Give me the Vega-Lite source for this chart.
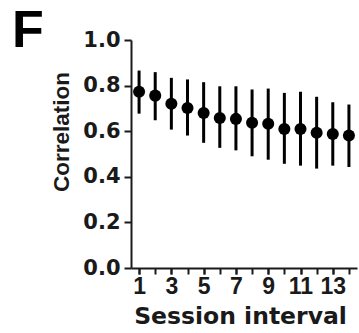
{
  "$schema": "https://vega.github.io/schema/vega-lite/v6.json",
  "autosize": {"type": "none"},
  "padding": {"left": 131, "top": 40, "right": 2, "bottom": 65},
  "width": 226,
  "height": 228,
  "background": "white",
  "title": {
    "text": "F",
    "anchor": "start",
    "frame": "group",
    "font": "Liberation Sans",
    "fontWeight": "bold",
    "fontSize": 52,
    "color": "black",
    "baseline": "alphabetic",
    "dx": -119,
    "dy": 70,
    "offset": 0
  },
  "data": {
    "values": [
      {"interval": 1, "r": 0.773, "lo": 0.677, "hi": 0.866},
      {"interval": 2, "r": 0.756, "lo": 0.648, "hi": 0.859},
      {"interval": 3, "r": 0.720, "lo": 0.607, "hi": 0.834},
      {"interval": 4, "r": 0.702, "lo": 0.581, "hi": 0.827},
      {"interval": 5, "r": 0.680, "lo": 0.549, "hi": 0.815},
      {"interval": 6, "r": 0.658, "lo": 0.527, "hi": 0.797},
      {"interval": 7, "r": 0.654, "lo": 0.516, "hi": 0.797},
      {"interval": 8, "r": 0.637, "lo": 0.490, "hi": 0.783},
      {"interval": 9, "r": 0.633, "lo": 0.475, "hi": 0.787},
      {"interval": 10, "r": 0.610, "lo": 0.457, "hi": 0.768},
      {"interval": 11, "r": 0.610, "lo": 0.449, "hi": 0.773},
      {"interval": 12, "r": 0.593, "lo": 0.436, "hi": 0.751},
      {"interval": 13, "r": 0.588, "lo": 0.449, "hi": 0.727},
      {"interval": 14, "r": 0.581, "lo": 0.443, "hi": 0.717}
    ]
  },
  "config": {
    "view": {"stroke": null},
    "axis": {
      "domainColor": "#1a1a1a",
      "domainWidth": 2,
      "tickColor": "#1a1a1a",
      "tickWidth": 2,
      "labelColor": "#1a1a1a",
      "titleColor": "#1a1a1a",
      "grid": false,
      "labelFontWeight": "bold",
      "titleFontWeight": "bold"
    }
  },
  "resolve": {"axis": {"x": "independent", "y": "shared"}},
  "layer": [
    {
      "mark": {"type": "rule", "color": "black", "strokeWidth": 3},
      "encoding": {
        "x": {
          "field": "interval",
          "type": "quantitative",
          "scale": {"domain": [0.5, 14.5], "nice": false, "zero": false},
          "axis": {
            "orient": "bottom",
            "values": [1,3,5,7,9,11,13],
            "labelOverlap": false,
            "labelFont": "Liberation Sans",
            "labelFontSize": 23,
            "labelPadding": 1,
            "tickSize": 6,
            "title": "Session interval",
            "titleFont": "DejaVu Sans",
            "titleFontSize": 23.5,
            "titleX": 109,
            "titleY": 55,
            "titleBaseline": "alphabetic",
            "titleAnchor": "middle"
          }
        },
        "y": {
          "field": "lo",
          "type": "quantitative",
          "scale": {"domain": [0, 1], "nice": false},
          "axis": {
            "values": [0,0.1,0.2,0.3,0.4,0.5,0.6,0.7,0.8,0.9,1.0],
            "labelExpr": "round(datum.value*10) % 2 === 0 ? format(datum.value, '.1f') : ''",
            "labelOverlap": false,
            "labelFont": "DejaVu Sans",
            "labelFontSize": 21,
            "labelPadding": 4,
            "tickSize": {"condition": {"test": "round(datum.value*10) % 2 === 0", "value": 7}, "value": 4},
            "title": "Correlation",
            "titleFont": "Liberation Sans",
            "titleFontSize": 22.5,
            "titleAngle": -90,
            "titleX": -63,
            "titleY": 91.5,
            "titleAlign": "center",
            "titleBaseline": "alphabetic"
          }
        },
        "y2": {"field": "hi"}
      }
    },
    {
      "mark": {"type": "point", "filled": true, "shape": "circle", "color": "black", "opacity": 1, "size": 145},
      "encoding": {
        "x": {
          "field": "interval",
          "type": "quantitative",
          "axis": {
            "orient": "bottom",
            "values": [1,2,3,4,5,6,7,8,9,10,11,12,13,14],
            "labels": false,
            "domain": false,
            "tickSize": 6,
            "title": null
          }
        },
        "y": {"field": "r", "type": "quantitative"}
      }
    }
  ]
}
